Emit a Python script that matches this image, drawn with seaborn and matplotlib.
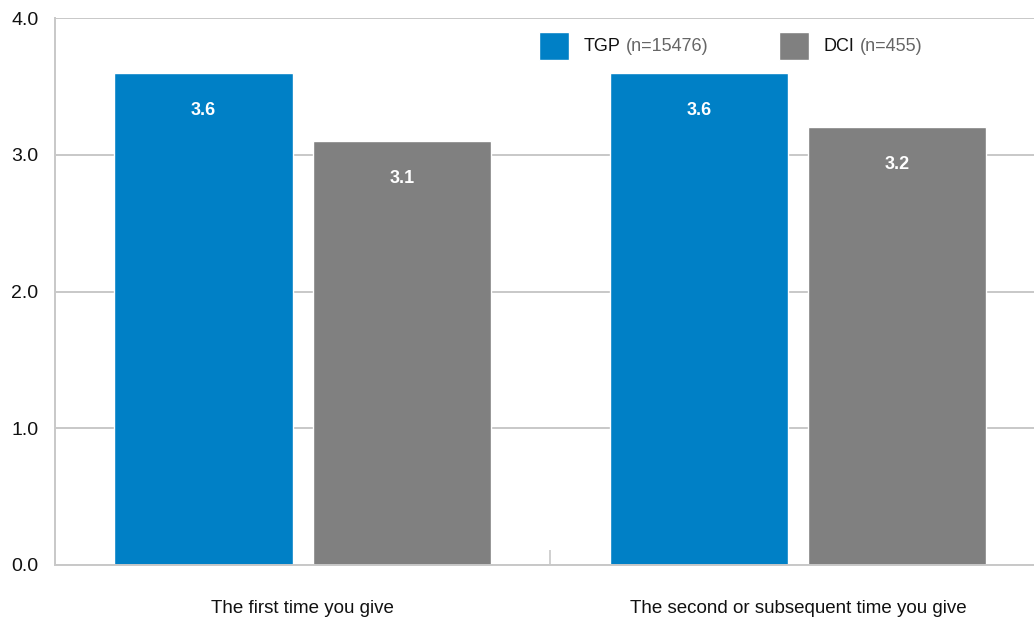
import matplotlib.pyplot as plt
import pandas as pd
import seaborn as sns

CATEGORIES = ["The first time you give", "The second or subsequent time you give"]
SERIES = ["TGP", "DCI"]
SERIES_N = ["(n=15476)", "(n=455)"]
TGP_VALUES = [3.6, 3.6]
DCI_VALUES = [3.1, 3.2]
Y_TICKS = [0.0, 1.0, 2.0, 3.0, 4.0]

COLORS = {"TGP": "#0080C6", "DCI": "#808080"}
GRID_COLOR = "#C8C8C8"


def build_frame() -> pd.DataFrame:
    rows = []
    for name, values in zip(SERIES, [TGP_VALUES, DCI_VALUES]):
        for category, value in zip(CATEGORIES, values):
            rows.append({"category": category, "series": name, "value": value})
    return pd.DataFrame(rows)


def main() -> None:
    sns.set_theme(style="white")
    plt.rcParams["font.family"] = ["Liberation Sans", "DejaVu Sans"]

    df = build_frame()
    fig = plt.figure(figsize=(10.34, 6.18), dpi=100)
    ax = fig.add_axes([0.0532, 0.0858, 0.9468, 0.885])

    sns.barplot(
        data=df, x="category", y="value", hue="series",
        order=CATEGORIES, hue_order=SERIES, palette=COLORS,
        width=0.8, gap=0.1, saturation=1, legend=False, ax=ax,
    )

    ax.set_xlim(-0.5, 1.476)
    ax.set_ylim(0, 4)
    ax.set_yticks(Y_TICKS)
    ax.set_yticklabels([f"{t:.1f}" for t in Y_TICKS])
    ax.yaxis.grid(True, color=GRID_COLOR, linewidth=1.4)
    ax.set_axisbelow(True)
    ax.set_xlabel("")
    ax.set_ylabel("")

    for side in ["top", "right"]:
        ax.spines[side].set_visible(False)
    for side in ["left", "bottom"]:
        ax.spines[side].set_color(GRID_COLOR)
        ax.spines[side].set_linewidth(1.4)

    ax.tick_params(axis="y", length=0, pad=12, labelsize=14, labelcolor="#111111")
    ax.tick_params(axis="x", which="major", length=0, pad=25, labelsize=13.5,
                   labelcolor="#111111")
    ax.set_xticks([0.5], minor=True)
    ax.tick_params(axis="x", which="minor", bottom=True, direction="in",
                   length=11, width=1.2, color=GRID_COLOR)

    for container in ax.containers:
        ax.bar_label(container, fmt="%.1f", padding=-33, color="white",
                     fontweight="bold", fontsize=13)

    legend = ax.legend(
        ax.containers, SERIES, loc="upper left", bbox_to_anchor=(0.4944, 0.975),
        ncol=2, frameon=False, borderpad=0, borderaxespad=0, fontsize=13,
        handlelength=1.65, handleheight=2.0, handletextpad=0.8, columnspacing=8.8,
    )
    for text, extra in zip(legend.get_texts(), SERIES_N):
        text.set_color("#111111")
        ax.annotate(extra, xy=(1, 0), xycoords=text, xytext=(4, 0),
                    textcoords="offset points", va="bottom", ha="left",
                    fontsize=13, color="#666666", zorder=10)

    fig.savefig("out.png", dpi=100)
    plt.close(fig)


if __name__ == "__main__":
    main()
